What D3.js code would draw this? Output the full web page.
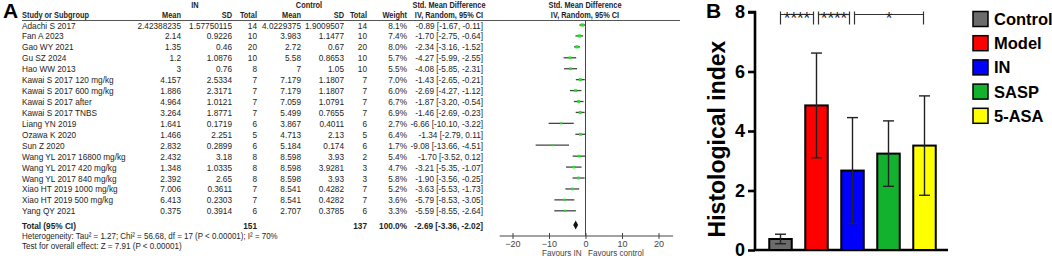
<!DOCTYPE html>
<html><head><meta charset="utf-8">
<script src="https://cdn.jsdelivr.net/npm/d3@7"></script>
<style>
html,body{margin:0;padding:0;background:#fff;}
svg{display:block;font-family:"Liberation Sans",Arial,sans-serif;}
</style></head>
<body><svg id="c" width="1052" height="259"></svg>
<script>
// ---------- Panel A data ----------
const studies = ["Adachi S 2017","Fan A 2023","Gao WY 2021","Gu SZ 2024","Hao WW 2013","Kawai S 2017 120 mg/kg","Kawai S 2017 600 mg/kg","Kawai S 2017 after","Kawai S 2017 TNBS","Liang YN 2019","Ozawa K 2020","Sun Z 2020","Wang YL 2017 16800 mg/kg","Wang YL 2017 420 mg/kg","Wang YL 2017 840 mg/kg","Xiao HT 2019 1000 mg/kg","Xiao HT 2019 500 mg/kg","Yang QY 2021"];
const inMean = ["2.42388235","2.14","1.35","1.2","3","4.157","1.886","4.964","3.264","1.641","1.466","2.832","2.432","1.348","2.392","7.006","6.413","0.375"];
const inSD = ["1.57750115","0.9226","0.46","1.0876","0.76","2.5334","2.3171","1.0121","1.8771","0.1719","2.251","0.2899","3.18","1.0335","2.65","0.3611","0.2303","0.3914"];
const inN = [14,10,20,10,8,7,7,7,7,6,5,6,8,8,8,7,7,6];
const ctrlMean = ["4.0229375","3.983","2.72","5.58","7","7.179","7.179","7.059","5.499","3.867","4.713","5.184","8.598","8.598","8.598","8.541","8.541","2.707"];
const ctrlSD = ["1.9009507","1.1477","0.67","0.8653","1.05","1.1807","1.1807","1.0791","0.7655","0.4011","2.13","0.174","3.93","3.9281","3.93","0.4282","0.4282","0.3785"];
const ctrlN = [14,10,20,10,10,7,7,7,7,6,5,6,2,3,3,7,7,6];
const weight = [8.1,7.4,8.0,5.7,5.5,7.0,6.0,6.7,6.9,2.7,6.4,1.7,5.4,4.7,5.8,5.2,3.6,3.3];
const smd = [-0.89,-1.70,-2.34,-4.27,-4.08,-1.43,-2.69,-1.87,-1.46,-6.66,-1.34,-9.08,-1.70,-3.21,-1.90,-3.63,-5.79,-5.59];
const ciLo = [-1.67,-2.75,-3.16,-5.99,-5.85,-2.65,-4.27,-3.20,-2.69,-10.10,-2.79,-13.66,-3.52,-5.35,-3.56,-5.53,-8.53,-8.55];
const ciHi = [-0.11,-0.64,-1.52,-2.55,-2.31,-0.21,-1.12,-0.54,-0.23,-3.22,0.11,-4.51,0.12,-1.07,-0.25,-1.73,-3.05,-2.64];
const total = {inN:151, ctrlN:137, weight:100.0, smd:-2.69, lo:-3.36, hi:-2.02};
const forestTicks = [-20,-10,0,10,20];

// ---------- Panel B data ----------
const groups = ["Control","Model","IN","SASP","5-ASA"];
const barMean = [0.37,4.86,2.67,3.24,3.51];
const barSD = [0.16,1.76,1.78,1.10,1.67];
const barColors = ["#6b6b6b","#ff0000","#0000ff","#13b22e","#ffff00"];
const yTicks = [0,2,4,6,8];
const sigPairs = [[0,1,"****"],[1,2,"****"],[2,4,"*"]];

const svg = d3.select("#c");
const txt = "#1e1e1e";
const SX = 0.86;   // narrow table lettering

function T(g, str, x, y, anchor, opts) {
  opts = opts || {};
  const t = g.append("text")
    .attr("transform", `translate(${x},${y}) scale(${opts.sx || SX},1)`)
    .attr("text-anchor", anchor || "start")
    .text(str);
  if (opts.bold) t.attr("font-weight", "bold");
  if (opts.size) t.attr("font-size", opts.size);
  if (opts.fill) t.attr("fill", opts.fill);
  return t;
}

// ================= Panel A =================
const A = svg.append("g");
A.append("text").attr("x",3).attr("y",17.5).attr("font-size",21).attr("font-weight","bold").text("A");

const rowY = d3.scalePoint().domain(d3.range(studies.length)).range([25,210.8]);
const colX = {study:22, inMean:181, inSD:232, inN:257, cMean:301, cSD:344, cN:367, w:407, ci:483, ciHead:449, forest:585};

// headers
const hdr = A.append("g").attr("font-weight","bold").attr("font-size",8.6).attr("fill",txt);
T(hdr,"IN",195,8,"middle");
T(hdr,"Control",309,8,"middle");
T(hdr,"Std. Mean Difference",colX.ciHead,8,"middle");
T(hdr,"Std. Mean Difference",colX.forest,8,"middle");
const h2 = [["Study or Subgroup",colX.study,"start"],["Mean",colX.inMean,"end"],["SD",colX.inSD,"end"],["Total",colX.inN,"end"],["Mean",colX.cMean,"end"],["SD",colX.cSD,"end"],["Total",colX.cN,"end"],["Weight",colX.w,"end"],["IV, Random, 95% CI",colX.ciHead,"middle"],["IV, Random, 95% CI",colX.forest,"middle"]];
h2.forEach(h=>T(hdr,h[0],h[1],17.8,h[2]));
A.append("line").attr("x1",22).attr("x2",680).attr("y1",20.5).attr("y2",20.5).attr("stroke","#555").attr("stroke-width",1);

// rows
const rows = A.append("g").attr("font-size",9.6).attr("fill",txt);
studies.forEach((s,i)=>{
  const y = rowY(i)+3.5;
  const cells = [[s,colX.study,"start"],[inMean[i],colX.inMean,"end"],[inSD[i],colX.inSD,"end"],[inN[i],colX.inN,"end"],
    [ctrlMean[i],colX.cMean,"end"],[ctrlSD[i],colX.cSD,"end"],[ctrlN[i],colX.cN,"end"],[weight[i].toFixed(1)+"%",colX.w,"end"],
    [smd[i].toFixed(2)+" ["+ciLo[i].toFixed(2)+", "+ciHi[i].toFixed(2)+"]",colX.ci,"end"]];
  cells.forEach(c=>T(rows,c[0],c[1],y,c[2]));
});
// total row
const ty = 225;
const tg = A.append("g").attr("font-size",9.6).attr("fill",txt).attr("font-weight","bold");
T(tg,"Total (95% CI)",colX.study,ty+3.5,"start");
T(tg,total.inN,colX.inN,ty+3.5,"end");
T(tg,total.ctrlN,colX.cN,ty+3.5,"end");
T(tg,total.weight.toFixed(1)+"%",colX.w,ty+3.5,"end");
T(tg,total.smd.toFixed(2)+" ["+total.lo.toFixed(2)+", "+total.hi.toFixed(2)+"]",colX.ci,ty+3.5,"end");
const foot = A.append("g").attr("font-size",9.6).attr("fill",txt);
T(foot,"Heterogeneity: Tau² = 1.27; Chi² = 56.68, df = 17 (P < 0.00001); I² = 70%",colX.study,238.5,"start",{sx:0.83});
T(foot,"Test for overall effect: Z = 7.91 (P < 0.00001)",colX.study,249,"start",{sx:0.84});

// forest
const fx = d3.scaleLinear().domain([-20,20]).range([512.5,658.5]);
const axisY = 236;
A.append("line").attr("x1",fx(0)).attr("x2",fx(0)).attr("y1",20.5).attr("y2",axisY).attr("stroke","#444").attr("stroke-width",1);
const fg = A.append("g");
studies.forEach((s,i)=>{
  fg.append("line").attr("x1",fx(ciLo[i])).attr("x2",fx(ciHi[i])).attr("y1",rowY(i)).attr("y2",rowY(i)).attr("stroke","#444").attr("stroke-width",1.3);
  const sz = 1.6 + weight[i]*0.2;
  fg.append("rect").attr("x",fx(smd[i])-sz/2).attr("y",rowY(i)-sz/2).attr("width",sz).attr("height",sz).attr("fill","#1ee61e");
});
fg.append("path").attr("d",`M${fx(total.lo)},${ty} L${fx(total.smd)},${ty-4.5} L${fx(total.hi)},${ty} L${fx(total.smd)},${ty+4.5} Z`).attr("fill","#111");
const ax = A.append("g").attr("transform",`translate(0,${axisY})`)
  .call(d3.axisBottom(fx).tickValues(forestTicks).tickSize(3).tickPadding(2).tickFormat(d3.format("d")));
ax.select(".domain").remove();
ax.selectAll(".tick line").attr("y1",-3).attr("y2",3).attr("stroke","#444");
ax.selectAll(".tick text").attr("font-size",9).attr("fill","#444").attr("font-family","Liberation Sans,Arial,sans-serif");
A.append("line").attr("x1",fx(-23.5)).attr("x2",fx(24)).attr("y1",axisY).attr("y2",axisY).attr("stroke","#444").attr("stroke-width",1);
const fav = A.append("g").attr("font-size",8.8).attr("fill","#444");
T(fav,"Favours IN",fx(0)-4,256,"end",{sx:0.92});
T(fav,"Favours control",fx(0)+2.5,256,"start",{sx:0.92});

// ================= Panel B =================
const B = svg.append("g").attr("font-family","Liberation Sans,Arial,sans-serif");
B.append("text").attr("x",706).attr("y",17.5).attr("font-size",21).attr("font-weight","bold").text("B");
const y = d3.scaleLinear().domain([0,8]).range([250,12]);
const x = d3.scaleBand().domain(groups).range([762.5,942.5]).paddingInner(0.375).paddingOuter(0.1875);
const yAx = B.append("g").attr("transform","translate(755,0)")
  .call(d3.axisLeft(y).tickValues(yTicks).tickSize(7).tickPadding(3).tickFormat(d3.format("d")));
yAx.select(".domain").attr("stroke","#000").attr("stroke-width",2.6).attr("d",`M-7,${y(8)}H0V${y(0)}`);
yAx.selectAll(".tick line").attr("stroke","#000").attr("stroke-width",2.6);
yAx.selectAll(".tick text").attr("font-size",18).attr("font-weight","bold").attr("fill","#000").attr("font-family","Liberation Sans,Arial,sans-serif");
B.append("line").attr("x1",753.7).attr("x2",948).attr("y1",y(0)).attr("y2",y(0)).attr("stroke","#000").attr("stroke-width",2.6);
B.append("text").attr("transform",`translate(725,139) rotate(-90)`).attr("text-anchor","middle")
  .attr("font-size",23).attr("font-weight","bold").text("Histological index");

groups.forEach((g,i)=>{
  B.append("rect").attr("x",x(g)).attr("y",y(barMean[i])).attr("width",x.bandwidth()).attr("height",y(0)-y(barMean[i]))
    .attr("fill",barColors[i]).attr("stroke","#000").attr("stroke-width",2);
  const cx = x(g)+x.bandwidth()/2;
  const e = B.append("g").attr("stroke","#222").attr("stroke-width",1.4);
  e.append("line").attr("x1",cx).attr("x2",cx).attr("y1",y(barMean[i]+barSD[i])).attr("y2",y(barMean[i]-barSD[i]));
  [barMean[i]+barSD[i],barMean[i]-barSD[i]].forEach(v=>e.append("line").attr("x1",cx-5.5).attr("x2",cx+5.5).attr("y1",y(v)).attr("y2",y(v)));
});

// significance brackets
const bY = 14.5;
sigPairs.forEach(([a,b,lab],k)=>{
  const x1 = x(groups[a])+x.bandwidth()/2 + (k===0?0:2);
  const x2 = x(groups[b])+x.bandwidth()/2 - (k===2?1:3);
  const g = B.append("g").attr("stroke","#333").attr("stroke-width",1.2);
  g.append("line").attr("x1",x1).attr("x2",x2).attr("y1",bY).attr("y2",bY);
  g.append("line").attr("x1",x1).attr("x2",x1).attr("y1",bY-3).attr("y2",bY+10);
  g.append("line").attr("x1",x2).attr("x2",x2).attr("y1",bY-3).attr("y2",bY+10);
  B.append("text").attr("x",(x1+x2)/2).attr("y",bY+9.5).attr("text-anchor","middle").attr("font-size",17).attr("fill","#222").text(lab);
});

// legend
const lg = B.append("g");
groups.forEach((g,i)=>{
  const ly = 19 + i*24.2;
  lg.append("rect").attr("x",973).attr("y",ly-7.5).attr("width",15).attr("height",15).attr("fill",barColors[i]).attr("stroke","#000").attr("stroke-width",1.5);
  lg.append("text").attr("x",994).attr("y",ly+6).attr("font-size",16.5).attr("font-weight","bold").text(g);
});
</script>
</body></html>
